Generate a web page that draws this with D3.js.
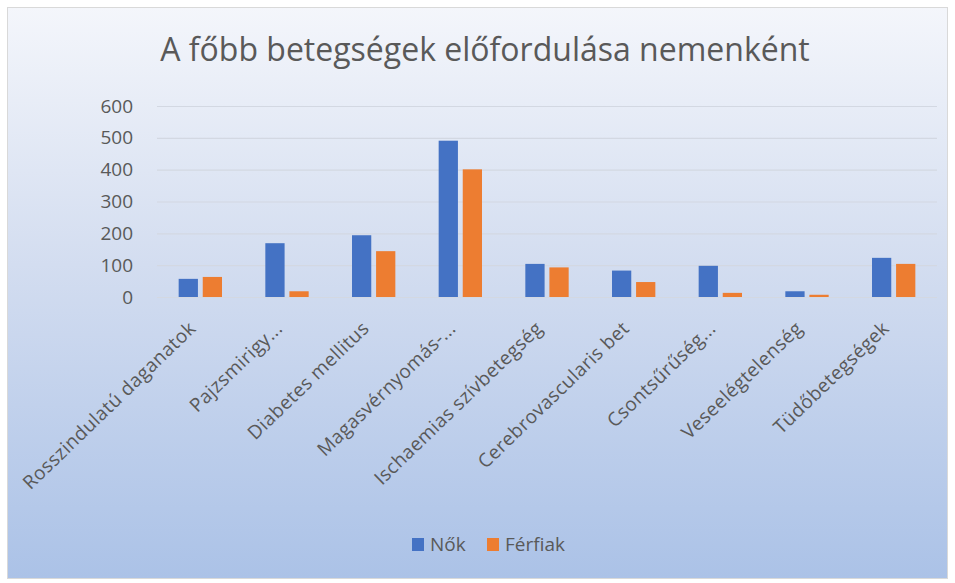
<!DOCTYPE html>
<html>
<head>
<meta charset="utf-8">
<script src="https://cdn.jsdelivr.net/npm/d3@7"></script>
<style>
  body { margin: 0; background: #ffffff; }
  text { font-family: "Open Sans", "Noto Sans", sans-serif; fill: #595959; }
</style>
</head>
<body>
<svg id="svgBarChart"></svg>
<script>
// [ --- Data
var categories = ["Rosszindulatú daganatok", "Pajzsmirigy...", "Diabetes mellitus",
  "Magasvérnyomás-...", "Ischaemias szívbetegség", "Cerebrovascularis bet",
  "Csontsűrűség...", "Veseelégtelenség", "Tüdőbetegségek"];
var series = ["Nők", "Férfiak"];
var nokValues = [57, 169, 194, 491, 104, 83, 98, 18, 123];
var ferfiakValues = [63, 18, 144, 401, 93, 47, 13, 7, 104];
var yTicks = [0, 100, 200, 300, 400, 500, 600];
var colors = ["#4472c4", "#ed7d31"];
// Data ---]

var width = 955;
var height = 583;
var plotLeft = 157;
var plotRight = 937;
var plotTop = 106;
var plotBottom = 297;

var tableData = categories.map(function(c, i){
  return {category: c, values: [nokValues[i], ferfiakValues[i]]};
});

var svg = d3.select("#svgBarChart")
              .attr("width", width)
              .attr("height", height);

var grad = svg.append("defs")
  .append("linearGradient")
    .attr("id", "bg")
    .attr("x1", 0).attr("y1", 0)
    .attr("x2", 0).attr("y2", 1);

grad.append("stop").attr("offset", "0%").attr("stop-color", "#f4f6fb");
grad.append("stop").attr("offset", "45%").attr("stop-color", "#d3ddf0");
grad.append("stop").attr("offset", "100%").attr("stop-color", "#abc2e7");

svg.append("rect")
    .attr("x", 7.5)
    .attr("y", 7.5)
    .attr("width", 940)
    .attr("height", 571)
    .attr("fill", "url(#bg)")
    .attr("stroke", "#d9d9d9");

var xScale = d3.scaleBand()
                .domain(categories)
                .range([plotLeft, plotRight])
                .paddingInner(0.5)
                .paddingOuter(0.25);

var xSub = d3.scaleBand()
              .domain(series)
              .range([0, xScale.bandwidth()])
              .paddingInner(0.2);

var yScale = d3.scaleLinear()
                .domain([0, 600])
                .range([plotBottom, plotTop]);

var yAxis = d3.axisLeft(yScale)
                .tickValues(yTicks)
                .tickSize(-(plotRight - plotLeft))
                .tickSizeOuter(0)
                .tickPadding(24);

svg.append("g")
    .attr("transform", "translate(" + plotLeft + ",0)")
    .call(yAxis)
    .call(g => g.select(".domain").remove())
    .call(g => g.selectAll(".tick line")
                  .attr("stroke", "#d3d8e2")
                  .attr("stroke-width", 1.2))
    .call(g => g.selectAll(".tick text")
                  .style("font-size", "19px")
                  .attr("fill", "#595959"));

// bars
svg.append("g")
  .selectAll("g")
  .data(tableData)
  .enter()
  .append("g")
    .attr("transform", d => "translate(" + xScale(d.category) + ",0)")
  .selectAll("rect")
  .data(d => d.values.map((v, i) => ({series: series[i], value: v, idx: i})))
  .enter()
  .append("rect")
    .attr("x", d => xSub(d.series))
    .attr("y", d => yScale(d.value))
    .attr("width", xSub.bandwidth())
    .attr("height", d => plotBottom - yScale(d.value))
    .attr("fill", d => colors[d.idx]);

// category labels
svg.append("g")
  .selectAll("text")
  .data(categories)
  .enter()
  .append("text")
    .attr("transform", d => "translate(" + (xScale(d) + xScale.bandwidth()/2 - 8) + "," + (plotBottom + 28) + ") rotate(-44)")
    .attr("dy", "0.35em")
    .style("text-anchor", "end")
    .style("font-size", "19px")
    .style("letter-spacing", "0.4px")
    .text(d => d);

svg.append("text")
    .attr("x", 485)
    .attr("y", 61)
    .style("text-anchor", "middle")
    .style("font-size", "32px")
    .text("A főbb betegségek előfordulása nemenként");

// legend
var legend = svg.append("g")
                .attr("transform", "translate(412,538)");

var legendX = [0, 75];

legend.selectAll("rect")
  .data(series)
  .enter()
  .append("rect")
    .attr("x", (d, i) => legendX[i])
    .attr("y", 0)
    .attr("width", 12)
    .attr("height", 13)
    .attr("fill", (d, i) => colors[i]);

legend.selectAll("text")
  .data(series)
  .enter()
  .append("text")
    .attr("x", (d, i) => legendX[i] + 18)
    .attr("y", 13)
    .style("font-size", "19px")
    .text(d => d);
</script>
</body>
</html>
